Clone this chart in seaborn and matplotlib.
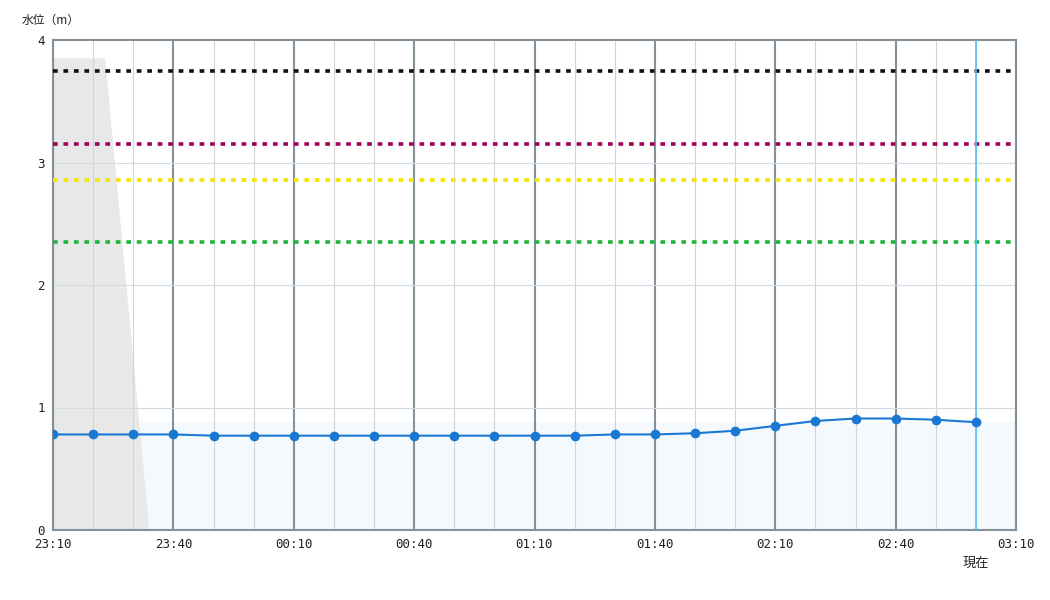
import pandas as pd
import seaborn as sns
import numpy as np
from matplotlib import pyplot as plt

# Observed water level (m), every 10 minutes
times = ["23:10", "23:20", "23:30", "23:40", "23:50", "00:00", "00:10", "00:20",
         "00:30", "00:40", "00:50", "01:00", "01:10", "01:20", "01:30", "01:40",
         "01:50", "02:00", "02:10", "02:20", "02:30", "02:40", "02:50", "03:00"]
levels = [0.78, 0.78, 0.78, 0.78, 0.77, 0.77, 0.77, 0.77,
          0.77, 0.77, 0.77, 0.77, 0.77, 0.77, 0.78, 0.78,
          0.79, 0.81, 0.85, 0.89, 0.91, 0.91, 0.90, 0.88]

# Threshold lines
thresh_values = [3.75, 3.15, 2.86, 2.35]
thresh_colors = ["#111111", "#a0005a", "#f2e600", "#22b33a"]

# Gray area (left) and light blue band
gray_times = ["23:10", "23:23", "23:34", "23:10"]
gray_values = [3.85, 3.85, 0.0, 0.0]
band_times = ["23:10", "03:10"]
band_value = 0.88

tick_labels = ["23:10", "23:40", "00:10", "00:40", "01:10", "01:40", "02:10", "02:40", "03:10"]
now_time = "03:00"


def to_min(t):
    h, m = [int(v) for v in t.split(':')]
    if h < 12:
        h += 24
    return (h - 23) * 60 + m - 10


df = pd.DataFrame({'t': [to_min(t) for t in times], 'level': levels})

sns.set_style('white')
plt.rcParams['font.family'] = ['DejaVu Sans Mono', 'Noto Sans CJK JP']

fig = plt.figure(figsize=(10.5, 6), dpi=100)
ax = fig.add_axes([53 / 1050, 70 / 600, 963 / 1050, 490 / 600])

# background areas
bx = [to_min(t) for t in band_times]
ax.fill_between(bx, 0, band_value, color='#f4f9fe', lw=0, zorder=0)
ax.fill([to_min(t) for t in gray_times], gray_values, color='#e8e8e8', lw=0, zorder=1)

# grid
for x in range(0, 241, 10):
    if x % 30 == 0:
        ax.axvline(x, color='#84909a', lw=1.5, zorder=2)
    else:
        ax.axvline(x, color='#d4d4d4', lw=0.8, zorder=2)
for y in [1, 2, 3]:
    ax.axhline(y, color='#d3dae2', lw=0.8, zorder=2)

# thresholds
for v, c in zip(thresh_values, thresh_colors):
    ax.axhline(v, color=c, lw=2.6, linestyle=(0, (1.3, 1.6)),
               dash_capstyle='butt', zorder=3)

# current time line
ax.axvline(to_min(now_time), color='#4fc3f7', lw=1.2, zorder=3)

sns.lineplot(data=df, x='t', y='level', color='#1a78d2', lw=1.5, marker='o',
             markersize=7, markeredgewidth=0, ax=ax, zorder=5)

ax.set_xlim(0, 240)
ax.set_ylim(0, 4)
ax.set_xticks([to_min(t) if t != "03:10" else 240 for t in tick_labels])
ax.set_xticklabels(tick_labels)
ax.set_yticks([0, 1, 2, 3, 4])
ax.tick_params(axis='both', labelsize=9, colors='#222222', length=0, pad=6)
ax.set_xlabel('')
ax.set_ylabel('')
for s in ax.spines.values():
    s.set_color('#84909a')
    s.set_linewidth(1.5)

fig.text(22 / 1050, 1 - 20 / 600, '水位（m）', fontsize=8.5, va='center', ha='left',
         family=['Noto Sans CJK JP', 'DejaVu Sans'], color='#222222')
ax.text(to_min(now_time), -0.27, '現在', fontsize=9.5, ha='center', va='center',
        family=['Noto Sans CJK JP', 'DejaVu Sans'], color='#222222')

fig.savefig('out.png', dpi=100)
